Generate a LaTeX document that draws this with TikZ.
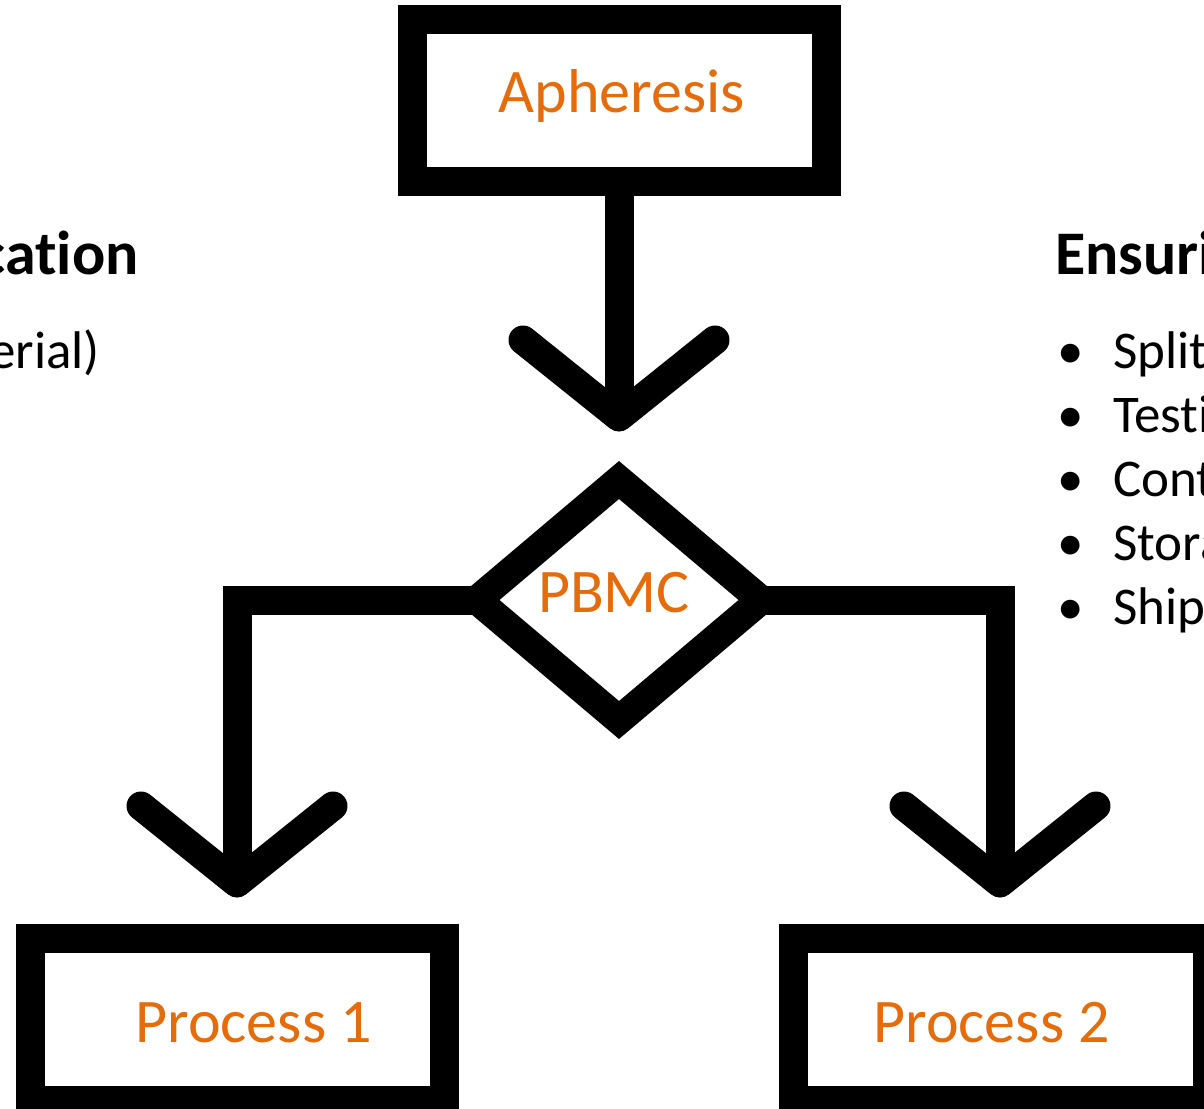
\documentclass[tikz,border=0pt]{standalone}
\usepackage{fontspec}
\setmainfont{Carlito}[RawFeature={-liga;-clig;-dlig}]
\usetikzlibrary{shapes.geometric,calc}
\definecolor{procorange}{RGB}{228,108,10}
\begin{document}
\begin{tikzpicture}[x=1pt,y=-1pt,
  frame/.style={draw=black, line width=29pt, rectangle, inner sep=0pt, outer sep=0pt, fill=white,
                minimum width=414pt, minimum height=162pt},
  decision/.style={draw=black, line width=29pt, diamond, inner sep=0pt, outer sep=0pt,
                   minimum width=284pt, minimum height=240pt},
  flow/.style={draw=black, line width=29pt},
  chevron/.style={draw=black, line width=29pt, line cap=round, line join=round},
  steplabel/.style={text=procorange, font=\fontsize{62}{74}\selectfont, inner sep=0pt, anchor=base},
  heading/.style={font=\bfseries\fontsize{62}{74}\selectfont, inner sep=0pt},
  bodytext/.style={font=\fontsize{53}{64}\selectfont, inner sep=0pt, anchor=base west},
]
\fill[white] (0,0) rectangle (1204,1108);
\useasboundingbox (0,0) rectangle (1204,1108);

% flow-chart shapes
\node[frame] (aph) at (619,100.5) {};
\node[decision] (pbmc) at (619,600) {};
\node[frame] (p1) at (237,1019) {};
\node[frame] (p2) at (1000,1019) {};

% arrow tips sit just above their targets
\coordinate (tipA) at ($(pbmc.north)+(0,-63)$);
\coordinate (tip1) at ($(p1.north)+(0,-55)$);
\coordinate (tip2) at ($(p2.north)+(0,-55)$);

% connectors
\draw[flow] (aph.south) -- (tipA);
\draw[flow] (pbmc.west) -| (tip1);
\draw[flow] (pbmc.east) -| (tip2);

% open chevron heads
\foreach \t in {tipA,tip1,tip2}
  \draw[chevron] ($(\t)+(-96,-77)$) -- (\t) -- ($(\t)+(96,-77)$);

% labels inside the shapes
\node[steplabel] (aphText) at (622,112) {Apheresis};
\node[steplabel] (pbmcText) at (614,612) {PBMC};
\node[steplabel] (p1Text) at (253.5,1042) {Process 1};
\node[steplabel] (p2Text) at (991.5,1042) {Process 2};

% side text
\node[heading, anchor=base east] (leftHead) at (139,274) {cation};
\node[bodytext, anchor=base east] (leftNote) at (100,368) {erial)};
\node[heading, anchor=base west] (rightHead) at (1055,274) {Ensuri};
\foreach \t [count=\i] in {Split,Testi,Cont,Stora,Ship}
  \node[bodytext] (item\i) at (1113,304+64*\i) {\llap{\makebox[14pt]{•}\hspace{36pt}}\t};
\end{tikzpicture}
\end{document}
